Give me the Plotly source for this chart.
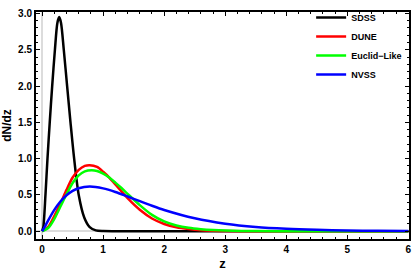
import plotly.graph_objects as go

# SDSS
sdss_z = [0, 0.02, 0.055, 0.088, 0.125, 0.165, 0.21, 0.25, 0.28, 0.31, 0.355, 0.41, 0.465, 0.525, 0.60, 0.69, 0.78, 0.88, 1.0, 1.2, 2.0, 6.0]
sdss_y = [0, 0.06, 0.5, 1.0, 1.5, 2.0, 2.5, 2.87, 2.95, 2.87, 2.5, 2.0, 1.5, 1.0, 0.5, 0.19, 0.057, 0.012, 0.002, 0, 0, 0]

# DUNE
dune_z = [0, 0.1, 0.2, 0.3, 0.4, 0.5, 0.6, 0.7, 0.78, 0.9, 1.0, 1.1, 1.2, 1.4, 1.6, 1.8, 2.0, 2.2, 2.4, 2.6, 2.8, 3.0, 3.5, 4.0, 6.0]
dune_y = [0, 0.06, 0.21, 0.38, 0.57, 0.74, 0.845, 0.90, 0.91, 0.885, 0.82, 0.74, 0.645, 0.455, 0.295, 0.175, 0.10, 0.055, 0.03, 0.014, 0.007, 0.003, 0.0, 0.0, 0.0]

# Euclid-Like
euclid_z = [0, 0.1, 0.2, 0.3, 0.4, 0.5, 0.6, 0.7, 0.81, 0.9, 1.0, 1.1, 1.2, 1.3, 1.4, 1.6, 1.8, 2.0, 2.2, 2.4, 2.6, 2.8, 3.0, 3.5, 4.0, 6.0]
euclid_y = [0, 0.045, 0.17, 0.34, 0.51, 0.665, 0.77, 0.825, 0.84, 0.83, 0.795, 0.74, 0.67, 0.595, 0.515, 0.36, 0.225, 0.135, 0.08, 0.047, 0.028, 0.016, 0.009, 0.002, 0.0, 0.0]

# NVSS
nvss_z = [0, 0.05, 0.1, 0.2, 0.3, 0.4, 0.5, 0.6, 0.78, 1.0, 1.2, 1.4, 1.6, 1.8, 2.0, 2.5, 3.0, 3.5, 4.0, 4.5, 5.0, 5.5, 6.0]
nvss_y = [0, 0.071, 0.151, 0.295, 0.41, 0.496, 0.555, 0.593, 0.615, 0.59, 0.541, 0.479, 0.414, 0.351, 0.293, 0.178, 0.103, 0.058, 0.033, 0.019, 0.011, 0.006, 0.003]

series = [
    ("SDSS", sdss_z, sdss_y, "#000000"),
    ("DUNE", dune_z, dune_y, "#ff0000"),
    ("Euclid\u2212Like", euclid_z, euclid_y, "#00ff00"),
    ("NVSS", nvss_z, nvss_y, "#0000ff"),
]

fig = go.Figure()
for name, zs, ys, col in series:
    fig.add_trace(go.Scatter(x=zs, y=ys, mode="lines", name=name,
                             line=dict(color=col, width=2.5, shape="spline", smoothing=0.8)))

font_family = "Liberation Sans, Arial, sans-serif"
fig.update_layout(
    width=415, height=275,
    margin=dict(l=36, r=3, t=5, b=36),
    paper_bgcolor="white", plot_bgcolor="white",
    font=dict(family=font_family, color="black"),
    showlegend=True,
    legend=dict(x=0.995, y=1.04, xanchor="right", yanchor="top",
                bgcolor="rgba(0,0,0,0)", font=dict(size=9, weight="bold"),
                itemwidth=30, tracegroupgap=0),
)
fig.update_xaxes(
    range=[-0.1, 6.01], tickmode="array", tickvals=[0, 1, 2, 3, 4, 5, 6],
    showgrid=False, zeroline=True, zerolinecolor="#dcdcdc", zerolinewidth=1.5,
    showline=True, linecolor="black", linewidth=2, mirror="ticks",
    ticks="inside", ticklen=4, tickwidth=1, tickcolor="black",
    minor=dict(ticks="inside", ticklen=2, tickwidth=1, tickcolor="black", dtick=0.2, showgrid=False),
    tickfont=dict(size=10, weight="bold"),
    title=dict(text="z", font=dict(size=13, weight="bold"), standoff=5),
)
fig.update_yaxes(
    range=[-0.107, 3.02], tickmode="array", tickvals=[0, 0.5, 1.0, 1.5, 2.0, 2.5, 3.0],
    ticktext=["0.0", "0.5", "1.0", "1.5", "2.0", "2.5", "3.0"],
    showgrid=False, zeroline=True, zerolinecolor="#dcdcdc", zerolinewidth=1.5,
    showline=True, linecolor="black", linewidth=2, mirror="ticks",
    ticks="inside", ticklen=4, tickwidth=1, tickcolor="black",
    minor=dict(ticks="inside", ticklen=2, tickwidth=1, tickcolor="black", dtick=0.1, showgrid=False),
    tickfont=dict(size=10, weight="bold"),
    title=dict(text="dN/dz", font=dict(size=12, weight="bold"), standoff=4),
)
fig.write_html("out.html", config={"displayModeBar": False},
               post_script="document.body.style.margin='0';document.body.style.padding='0';")
